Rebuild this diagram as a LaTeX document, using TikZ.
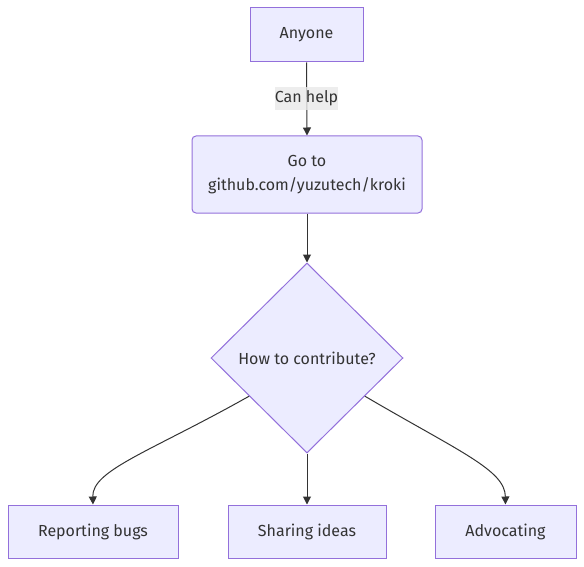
\documentclass[tikz,border=0pt]{standalone}
\usepackage{fontspec}
\setmainfont{Fira Sans}
\usetikzlibrary{calc,shapes.geometric,arrows.meta}
\definecolor{boxfill}{HTML}{ECECFF}
\definecolor{boxline}{HTML}{9370DB}
\definecolor{ink}{HTML}{333333}
\definecolor{lblfill}{HTML}{E8E8E8}
\tikzset{
  box/.style={draw=boxline,fill=boxfill,line width=1pt,text=ink,inner sep=0pt,
    minimum height=#1,font=\fontsize{16}{24}\selectfont,align=center},
  box/.default=54pt,
  choice/.style={diamond,draw=boxline,fill=boxfill,line width=1pt,text=ink,inner sep=0pt,
    minimum width=192pt,minimum height=190pt,font=\fontsize{16}{19}\selectfont},
  edge/.style={draw=ink,line width=1pt,-{Triangle[length=8pt,width=8pt]}},
  lbl/.style={fill=lblfill,fill opacity=0.8,text opacity=1,text=ink,inner sep=0pt,
    minimum height=23pt,font=\fontsize{16}{19}\selectfont}
}
\begin{document}
\begin{tikzpicture}[x=1pt,y=-1pt]
  \useasboundingbox (0,0) rectangle (584,567);
  \node[box,minimum width=113pt](any)at(306.5,35){Anyone};
  \node[box=77pt,minimum width=230pt,rounded corners=4pt](go)at(307,174.5){Go to\\github.com/yuzutech/kroki};
  \node[choice](how)at(307,358){How to contribute?};
  \node[box=53pt,minimum width=170pt](bugs)at(93,531.5){Reporting bugs};
  \node[box=53pt,minimum width=158pt](ideas)at(307,531.5){Sharing ideas};
  \node[box=53pt,minimum width=141pt](adv)at(505.5,531.5){Advocating};
  \coordinate(L)at($(how.west)!0.4!(how.south)$);
  \coordinate(R)at($(how.east)!0.4!(how.south)$);
  \draw[edge](any.south)--(go.north);
  \node[lbl](help)at(306.5,98.5){Can help};
  \draw[edge](go.south)--(how.north);
  \draw[edge](L) .. controls (150,452) and (92,470) .. (bugs.north);
  \draw[edge](how.south)--(ideas.north);
  \draw[edge](R) .. controls (460,452) and (505,470) .. (adv.north);
\end{tikzpicture}
\end{document}
